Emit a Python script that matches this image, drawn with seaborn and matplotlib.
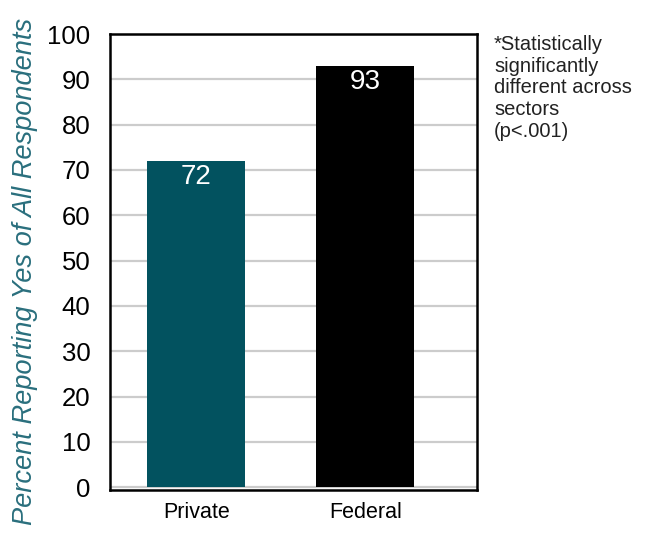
"""Bar chart: percent reporting yes, private vs federal sector."""

import matplotlib

matplotlib.use("Agg")
import matplotlib.pyplot as plt
import pandas as pd
import seaborn as sns

# data
sectors = ["Private", "Federal"]
percent_yes = [72, 93]
bar_colors = ["#02525F", "#000000"]
y_ticks = [0, 10, 20, 30, 40, 50, 60, 70, 80, 90, 100]

y_label = "Percent Reporting Yes of All Respondents"
note = "*Statistically\nsignificantly\ndifferent across\nsectors\n(p<.001)"

sns.set_style("white")
plt.rcParams["font.family"] = ["Liberation Sans", "DejaVu Sans"]

df = pd.DataFrame({"sector": sectors, "percent": percent_yes})

fig = plt.figure(figsize=(6.55, 5.38), dpi=100)
ax = fig.add_axes([110 / 655, 1 - 490 / 538, (477 - 110) / 655, (490 - 34) / 538])

sns.barplot(
    data=df,
    x="sector",
    y="percent",
    hue="sector",
    palette=dict(zip(sectors, bar_colors)),
    width=0.58,
    legend=False,
    saturation=1,
    linewidth=0,
    zorder=3,
    ax=ax,
)

ax.set_xlim(-0.51, 1.66)
ax.set_ylim(-0.6, 100)
ax.set_yticks(y_ticks)
ax.yaxis.grid(True, color="#cccccc", linewidth=1.6, zorder=0)
ax.set_axisbelow(True)
ax.tick_params(axis="both", length=0, labelcolor="black")
ax.tick_params(axis="y", labelsize=18.5, pad=14)
ax.tick_params(axis="x", labelsize=15.5, pad=9)
ax.set_xlabel("")
ax.set_ylabel("")
for spine in ax.spines.values():
    spine.set_visible(True)
    spine.set_color("black")
    spine.set_linewidth(1.8)

for i, v in enumerate(percent_yes):
    ax.text(i, v - 3.6, str(v), ha="center", va="center", color="white", fontsize=20, zorder=4)

# axis title sits in the figure margin, kept just inside the top edge
fig.text(
    25 / 655,
    1 - 271 / 538,
    y_label,
    rotation=90,
    ha="center",
    va="center",
    fontsize=19.6,
    style="italic",
    color="#2A6F7D",
)

fig.text(494 / 655, 1 - 35 / 538, note, ha="left", va="top", fontsize=14.5, linespacing=1.18, color="#222222")

fig.savefig("out.png", dpi=100)
